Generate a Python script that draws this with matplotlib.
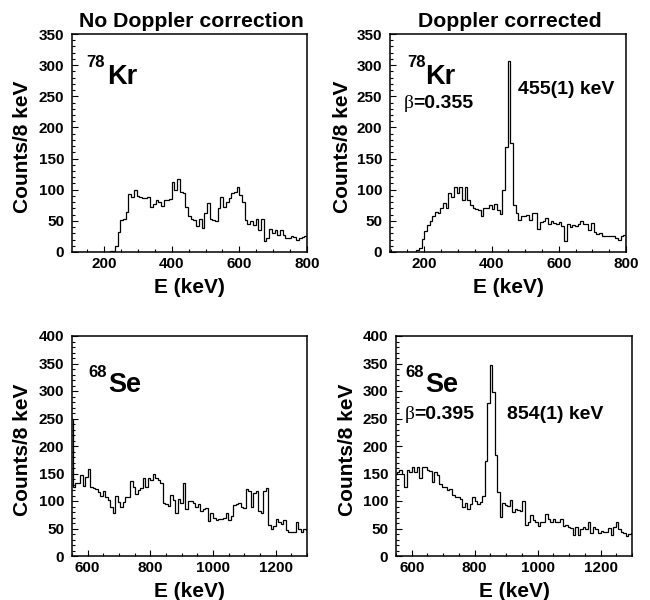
import numpy as np
import matplotlib
matplotlib.use('Agg')
import matplotlib.pyplot as plt
from matplotlib.ticker import MultipleLocator

plt.rcParams['font.family'] = ['Liberation Sans', 'DejaVu Sans']
plt.rcParams['font.weight'] = 'bold'

BIN_WIDTH = 8  # keV

# 78Kr, no Doppler correction (bins start at 104 keV)
kr_raw_start = 104
kr_raw_counts = [0] * 14 + [
    2, 2, 9, 32, 52, 53, 64, 93, 89, 100, 90, 89, 87, 86, 89, 72, 77, 84, 80, 74,
    84, 83, 85, 112, 99, 117, 96, 95, 73, 57, 53, 52, 41, 53, 38, 63, 79, 53, 52, 49,
    71, 89, 72, 81, 87, 95, 97, 104, 92, 81, 52, 45, 49, 43, 53, 36, 53, 18, 22, 37,
    30, 35, 28, 35, 27, 22, 23, 25, 24, 20, 22, 24, 25]

# 78Kr, Doppler corrected (bins start at 96 keV)
kr_dc_start = 96
kr_dc_counts = [0] * 10 + [
    3, 7, 21, 34, 44, 50, 58, 64, 63, 71, 79, 71, 95, 89, 104, 95, 104, 84, 104, 84,
    76, 71, 69, 68, 57, 70, 71, 76, 69, 77, 68, 61, 100, 168, 307, 175, 76, 63, 52, 57,
    58, 60, 52, 62, 62, 37, 48, 49, 55, 45, 49, 46, 45, 48, 42, 17, 45, 40, 44, 42,
    45, 49, 45, 45, 35, 47, 32, 29, 30, 26, 25, 26, 25, 26, 22, 20, 26, 28]

# 68Se, no Doppler correction (bins start at 544 keV)
se_raw_start = 544
se_raw_counts = [
    250, 125, 132, 132, 148, 128, 144, 159, 126, 124, 121, 117, 109, 119, 107, 102, 90, 78, 110, 99,
    90, 99, 108, 108, 136, 126, 113, 120, 124, 141, 125, 141, 139, 149, 141, 139, 133, 97, 94, 91,
    111, 101, 78, 104, 97, 133, 85, 100, 100, 96, 90, 95, 82, 85, 87, 64, 78, 70, 65, 68,
    67, 70, 79, 65, 72, 93, 95, 96, 90, 88, 121, 119, 90, 114, 119, 81, 79, 119, 123, 56,
    50, 55, 67, 62, 58, 65, 47, 43, 43, 43, 62, 50, 43, 50, 48]

# 68Se, Doppler corrected (bins start at 544 keV)
se_dc_start = 544
se_dc_counts = [
    150, 153, 156, 150, 126, 156, 152, 161, 152, 161, 142, 161, 161, 156, 155, 134, 153, 147, 131, 126,
    126, 120, 122, 111, 107, 107, 103, 89, 97, 85, 94, 107, 100, 94, 99, 110, 173, 278, 348, 299,
    184, 117, 71, 96, 93, 91, 102, 80, 86, 83, 82, 100, 57, 61, 74, 65, 61, 55, 62, 61,
    77, 68, 61, 68, 61, 61, 67, 55, 57, 53, 51, 39, 53, 39, 50, 53, 49, 61, 41, 53,
    49, 41, 46, 44, 44, 51, 38, 53, 61, 49, 44, 41, 37, 40, 42]

kr_xlim_raw = (105, 800)
kr_xlim_dc = (98, 800)
se_xlim = (550, 1300)
kr_ylim = (0, 350)
se_ylim = (0, 400)

col_titles = ["No Doppler correction", "Doppler corrected"]
kr_mass, kr_elem = "78", "Kr"
se_mass, se_elem = "68", "Se"
kr_beta, se_beta = "=0.355", "=0.395"
kr_peak, se_peak = "455(1) keV", "854(1) keV"
xlabel = "E (keV)"
ylabel = "Counts/8 keV"

W, H = 650, 600
fig = plt.figure(figsize=(W / 100, H / 100), dpi=100)


def rect(x0, x1, ytop, ybot):
    return [x0 / W, 1 - ybot / H, (x1 - x0) / W, (ybot - ytop) / H]


ax_tl = fig.add_axes(rect(72, 307, 34, 252))
ax_tr = fig.add_axes(rect(390, 626, 34, 252))
ax_bl = fig.add_axes(rect(72, 307, 336, 556))
ax_br = fig.add_axes(rect(396, 632, 336, 556))


def draw(ax, start, counts, xlim, ylim, xmaj, ylab_x):
    counts = np.asarray(counts, dtype=float)
    edges = start + BIN_WIDTH * np.arange(len(counts) + 1)
    ax.stairs(counts, edges, color='black', lw=0.9, baseline=0)
    ax.set_xlim(*xlim)
    ax.set_ylim(*ylim)
    ax.xaxis.set_major_locator(MultipleLocator(xmaj))
    ax.xaxis.set_minor_locator(MultipleLocator(50))
    ax.yaxis.set_major_locator(MultipleLocator(50))
    ax.yaxis.set_minor_locator(MultipleLocator(10))
    ax.tick_params(which='both', direction='in', top=False, right=False, width=0.8)
    ax.tick_params(which='major', length=4.5)
    ax.tick_params(which='minor', length=2.3)
    ax.tick_params(axis='x', which='major', pad=3.8, labelsize=11)
    ax.tick_params(axis='y', which='major', pad=5.5, labelsize=11)
    for lab in ax.get_xticklabels() + ax.get_yticklabels():
        lab.set_fontweight('bold')
    for s in ax.spines.values():
        s.set_linewidth(1.1)
    ax.set_xlabel(xlabel, fontsize=15, fontweight='bold')
    ax.xaxis.set_label_coords(0.5, -41 / 218)
    ax.xaxis.label.set_va('baseline')
    ax.set_ylabel(ylabel, fontsize=15, fontweight='bold')
    ax.yaxis.set_label_coords(ylab_x, 0.483)
    ax.yaxis.label.set_va('baseline')


draw(ax_tl, kr_raw_start, kr_raw_counts, kr_xlim_raw, kr_ylim, 200, -0.186)
draw(ax_tr, kr_dc_start, kr_dc_counts, kr_xlim_dc, kr_ylim, 200, -0.178)
draw(ax_bl, se_raw_start, se_raw_counts, se_xlim, se_ylim, 200, -0.186)
draw(ax_br, se_dc_start, se_dc_counts, se_xlim, se_ylim, 200, -0.182)

for ax, t in zip([ax_tl, ax_tr], col_titles):
    ax.text(0.51, 1 + 7.3 / 218, t, transform=ax.transAxes, ha='center',
            va='baseline', fontsize=15.3, fontweight='bold')


def nucleus(ax, mass, elem, xm, ym, xe, ye):
    ax.text(xm, ym, mass, transform=ax.transAxes, ha='left', va='baseline',
            fontsize=12, fontweight='bold')
    ax.text(xe, ye, elem, transform=ax.transAxes, ha='left', va='baseline',
            fontsize=19.5, fontweight='bold')


def beta(ax, val, xb, xv, y):
    ax.text(xb, y, "β", transform=ax.transAxes, ha='left', va='baseline',
            fontsize=14, fontweight='normal', family=['Liberation Serif', 'DejaVu Serif'])
    ax.text(xv, y, val, transform=ax.transAxes, ha='left', va='baseline',
            fontsize=14, fontweight='bold')


nucleus(ax_tl, kr_mass, kr_elem, 0.0626, 0.850, 0.1477, 0.769)
nucleus(ax_tr, kr_mass, kr_elem, 0.072, 0.850, 0.148, 0.769)
nucleus(ax_bl, se_mass, se_elem, 0.069, 0.815, 0.154, 0.747)
nucleus(ax_br, se_mass, se_elem, 0.038, 0.815, 0.123, 0.747)

beta(ax_tr, kr_beta, 0.059, 0.0987, 0.659)
beta(ax_br, se_beta, 0.038, 0.076, 0.621)

ax_tr.text(0.5436, 0.725, kr_peak, transform=ax_tr.transAxes, ha='left',
           va='baseline', fontsize=14, fontweight='bold')
ax_br.text(0.469, 0.621, se_peak, transform=ax_br.transAxes, ha='left',
           va='baseline', fontsize=14, fontweight='bold')

fig.savefig('out.png', dpi=100)
